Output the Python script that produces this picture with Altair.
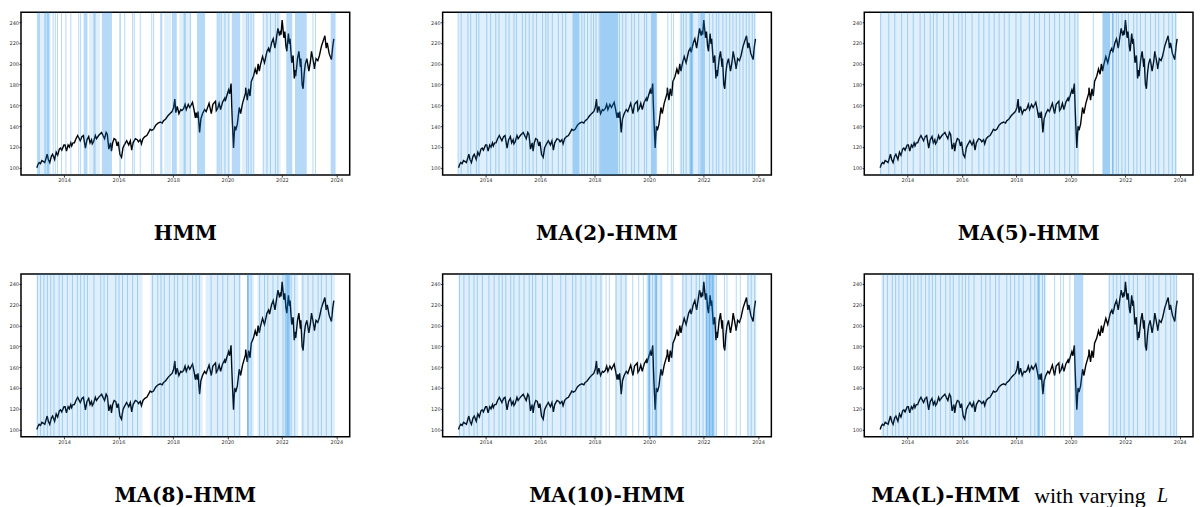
import altair as alt
import pandas as pd

# ---------------- price series ----------------
DATES = [
    "2013-01-02", "2013-01-15", "2013-02-01", "2013-02-20", "2013-03-10", "2013-04-01", "2013-04-18",
    "2013-05-20", "2013-06-05", "2013-06-24", "2013-07-15", "2013-08-01", "2013-08-28", "2013-09-18",
    "2013-10-08", "2013-10-30", "2013-11-15", "2013-12-02", "2013-12-31", "2014-01-15", "2014-02-03",
    "2014-02-25", "2014-03-14", "2014-04-02", "2014-04-14", "2014-05-01", "2014-05-20", "2014-06-10",
    "2014-07-03", "2014-07-31", "2014-08-07", "2014-08-29", "2014-09-18", "2014-10-15", "2014-11-05",
    "2014-11-28", "2014-12-16", "2015-01-05", "2015-01-15", "2015-02-01", "2015-02-25", "2015-03-12",
    "2015-04-10", "2015-05-20", "2015-06-08", "2015-06-29", "2015-07-20", "2015-08-05", "2015-08-25",
    "2015-09-17", "2015-09-29", "2015-10-15", "2015-11-03", "2015-11-25", "2015-12-14", "2015-12-30",
    "2016-01-20", "2016-02-11", "2016-03-01", "2016-03-20", "2016-04-20", "2016-05-18", "2016-06-08",
    "2016-06-27", "2016-07-15", "2016-08-15", "2016-09-09", "2016-09-25", "2016-10-20", "2016-11-04",
    "2016-11-25", "2016-12-20", "2017-01-15", "2017-02-15", "2017-03-01", "2017-03-22", "2017-04-15",
    "2017-05-15", "2017-06-15", "2017-07-15", "2017-08-10", "2017-08-25", "2017-09-25", "2017-10-25",
    "2017-11-20", "2017-12-20", "2018-01-10", "2018-01-26", "2018-02-08", "2018-02-27", "2018-03-22",
    "2018-04-15", "2018-05-01", "2018-05-25", "2018-06-12", "2018-06-28", "2018-07-25", "2018-08-15",
    "2018-09-20", "2018-10-10", "2018-10-29", "2018-11-08", "2018-11-23", "2018-12-03", "2018-12-24",
    "2019-01-10", "2019-02-01", "2019-03-01", "2019-03-22", "2019-04-30", "2019-05-30", "2019-06-20",
    "2019-07-26", "2019-08-05", "2019-08-23", "2019-09-12", "2019-10-02", "2019-10-28", "2019-11-26",
    "2019-12-03", "2019-12-27", "2020-01-17", "2020-01-31", "2020-02-19", "2020-02-28", "2020-03-09",
    "2020-03-23", "2020-04-08", "2020-04-21", "2020-05-13", "2020-06-08", "2020-06-26", "2020-07-22",
    "2020-08-31", "2020-09-02", "2020-09-23", "2020-10-12", "2020-10-30", "2020-11-16", "2020-12-15",
    "2021-01-08", "2021-01-29", "2021-02-16", "2021-03-04", "2021-03-19", "2021-04-16", "2021-05-12",
    "2021-06-15", "2021-07-06", "2021-07-19", "2021-08-15", "2021-09-06", "2021-09-30", "2021-10-20",
    "2021-11-08", "2021-11-30", "2021-12-13", "2021-12-20", "2022-01-04", "2022-01-27", "2022-02-09",
    "2022-02-24", "2022-03-08", "2022-03-29", "2022-04-12", "2022-04-20", "2022-05-12", "2022-05-31",
    "2022-06-16", "2022-06-27", "2022-07-05", "2022-07-29", "2022-08-16", "2022-09-06", "2022-09-12",
    "2022-09-29", "2022-10-12", "2022-10-27", "2022-11-11", "2022-12-01", "2022-12-28", "2023-01-18",
    "2023-02-02", "2023-03-09", "2023-03-13", "2023-04-03", "2023-04-27", "2023-05-19", "2023-06-15",
    "2023-07-31", "2023-08-18", "2023-09-01", "2023-09-26", "2023-10-27", "2023-11-14", "2023-11-28",
]
PRICE = [
    100, 103, 105, 104, 107, 106, 105,
    113, 108, 105, 111, 113, 108, 115,
    112, 118, 119, 117, 122, 122, 116,
    122, 120, 124, 121, 124, 124, 128,
    131, 127, 126, 130, 131, 119, 127,
    130, 124, 127, 123, 125, 131, 128,
    131, 134, 131, 128, 134, 132, 118,
    124, 116, 124, 128, 127, 121, 125,
    113, 110, 119, 122, 126, 122, 126,
    117, 124, 128, 127, 125, 127, 123,
    128, 130, 131, 135, 137, 136, 137,
    141, 143, 144, 143, 145, 147, 150,
    152, 154, 158, 166, 153, 159, 152,
    156, 155, 157, 161, 156, 161, 158,
    163, 156, 148, 153, 148, 154, 134,
    147, 152, 156, 154, 162, 152, 161,
    164, 155, 157, 162, 156, 163, 167,
    164, 170, 175, 171, 181, 160, 142,
    119, 140, 136, 142, 158, 152, 162,
    172, 177, 165, 176, 169, 183, 188,
    195, 190, 200, 193, 199, 207, 201,
    212, 215, 211, 220, 224, 215, 225,
    234, 227, 232, 228, 242, 225, 231,
    217, 212, 229, 219, 224, 201, 208,
    186, 194, 188, 205, 212, 197, 205,
    180, 176, 191, 200, 205, 193, 202,
    212, 198, 195, 205, 203, 208, 217,
    227, 215, 220, 210, 204, 217, 224,
]

# ---------------- regime shading per panel (fractional years) ----------------
HMM_SOLID = [(2013.28, 2013.33), (2013.36, 2013.46), (2014.72, 2014.86), (2015.39, 2015.76),
             (2016.03, 2016.09), (2017.53, 2017.61), (2017.96, 2018.14), (2018.88, 2019.18),
             (2020.16, 2020.47), (2022.16, 2022.38), (2022.48, 2022.91), (2023.79, 2023.97)]
HMM_LIGHT = [(2013.0, 2013.51), (2014.92, 2015.32), (2017.68, 2017.93), (2018.23, 2018.64),
             (2019.62, 2020.09), (2020.53, 2020.97), (2021.31, 2021.95)]
HMM_LINES = [2013.04, 2013.09, 2013.60, 2013.68, 2013.76, 2013.91, 2014.07, 2014.25, 2014.54,
             2014.61, 2015.10, 2015.14, 2016.23, 2016.52, 2016.58, 2016.80, 2017.22, 2017.29,
             2018.41, 2018.45, 2018.64, 2019.62, 2019.69, 2019.77, 2019.91, 2020.05, 2020.71,
             2020.77, 2020.87, 2020.97, 2021.31, 2021.45, 2021.58, 2021.76, 2021.85, 2023.14, 2023.23]

MA2_SOLID = [(2017.19, 2017.44), (2018.20, 2018.86), (2020.07, 2020.28), (2021.48, 2021.62),
             (2021.88, 2022.05)]
MA2_LIGHT = [(2013.0, 2020.30), (2021.12, 2023.90)]
MA2_LINES = [2012.99, 2013.10, 2013.35, 2013.45, 2013.66, 2013.75, 2014.04, 2014.18, 2014.37,
             2014.49, 2014.74, 2014.86, 2015.04, 2015.13, 2015.35, 2015.47, 2015.60, 2015.74,
             2015.87, 2016.09, 2016.21, 2016.29, 2016.45, 2016.67, 2016.82, 2016.94, 2017.53,
             2017.62, 2017.74, 2017.87, 2017.96, 2018.05, 2018.17, 2018.91, 2019.03, 2019.15,
             2019.36, 2019.46, 2019.62, 2019.83, 2019.91, 2020.69, 2020.82, 2020.90, 2021.18,
             2021.26, 2021.36, 2021.55, 2021.83, 2022.22, 2022.34, 2022.47, 2022.56, 2022.71,
             2022.83, 2022.96, 2023.08, 2023.20, 2023.33, 2023.45, 2023.57, 2023.67, 2023.79, 2023.88]

MA5_SOLID = [(2021.17, 2021.44), (2021.52, 2021.58)]
MA5_LIGHT = [(2013.0, 2020.28), (2021.15, 2023.90)]
MA5_LINES = [2013.02, 2013.32, 2013.54, 2013.79, 2014.01, 2014.22, 2014.47, 2014.63, 2014.84,
             2014.96, 2015.09, 2015.33, 2015.52, 2015.70, 2015.89, 2016.01, 2016.14, 2016.38,
             2016.63, 2016.81, 2017.00, 2017.19, 2017.37, 2017.56, 2017.74, 2017.99, 2018.17,
             2018.48, 2018.67, 2018.85, 2019.04, 2019.22, 2019.41, 2019.59, 2019.78, 2019.96,
             2020.15, 2020.27, 2020.83, 2021.54, 2021.67, 2021.75, 2021.88, 2022.00, 2022.12,
             2022.31, 2022.43, 2022.56, 2022.74, 2022.93, 2023.11, 2023.23, 2023.42, 2023.60,
             2023.73, 2023.85]

MA8_SOLID = [(2020.72, 2020.80), (2022.10, 2022.30)]
MA8_LIGHT = [(2013.0, 2016.88), (2017.17, 2019.09), (2019.20, 2020.50), (2020.72, 2020.97),
             (2021.10, 2022.60), (2022.70, 2023.94)]
MA8_LINES = [2013.02, 2013.14, 2013.26, 2013.39, 2013.51, 2013.63, 2013.82, 2013.94, 2014.12,
             2014.31, 2014.49, 2014.61, 2014.74, 2014.86, 2015.10, 2015.35, 2015.47, 2015.60,
             2015.90, 2016.02, 2016.15, 2016.33, 2016.52, 2016.70, 2017.25, 2017.44, 2017.56,
             2017.68, 2017.87, 2018.05, 2018.17, 2018.36, 2018.54, 2018.72, 2018.85, 2018.97,
             2019.40, 2019.64, 2019.83, 2020.01, 2020.26, 2020.44, 2020.75, 2020.87, 2021.18,
             2021.36, 2021.48, 2021.67, 2021.85, 2022.04, 2022.22, 2022.34, 2022.47, 2022.77,
             2022.96, 2023.14, 2023.33, 2023.45, 2023.63, 2023.82]

MA10_SOLID = [(2019.95, 2020.05), (2020.20, 2020.30), (2022.08, 2022.40)]
MA10_LIGHT = [(2013.0, 2018.30), (2018.75, 2019.20), (2019.90, 2020.50), (2021.20, 2022.48),
              (2023.60, 2023.94)]
MA10_LINES = [2013.04, 2013.20, 2013.39, 2013.57, 2013.69, 2013.88, 2014.12, 2014.31, 2014.49,
              2014.61, 2014.74, 2014.92, 2015.04, 2015.23, 2015.41, 2015.60, 2015.72, 2015.84,
              2016.09, 2016.27, 2016.45, 2016.76, 2016.94, 2017.19, 2017.31, 2017.50, 2017.68,
              2017.87, 2018.05, 2018.23, 2018.42, 2018.54, 2018.79, 2018.97, 2019.15, 2019.40,
              2019.62, 2019.79, 2020.01, 2020.13, 2020.26, 2020.44, 2020.81, 2020.87, 2021.24,
              2021.36, 2021.55, 2021.73, 2021.85, 2021.98, 2022.10, 2022.22, 2022.34, 2022.47,
              2022.77, 2022.86, 2023.20, 2023.35, 2023.63, 2023.75, 2023.88]

MAL_SOLID = [(2018.77, 2018.86), (2020.12, 2020.46)]
MAL_LIGHT = [(2013.05, 2019.10), (2021.40, 2023.90)]
MAL_LINES = [2013.12, 2013.27, 2013.45, 2013.57, 2013.69, 2013.85, 2014.00, 2014.12, 2014.24,
             2014.39, 2014.51, 2014.67, 2014.80, 2014.92, 2015.04, 2015.22, 2015.41, 2015.57,
             2015.69, 2015.90, 2016.02, 2016.14, 2016.26, 2016.45, 2016.72, 2016.88, 2017.04,
             2017.24, 2017.37, 2017.65, 2017.79, 2017.94, 2018.10, 2018.26, 2018.53, 2018.68,
             2018.83, 2018.96, 2019.04, 2019.41, 2019.63, 2019.73, 2019.97, 2021.41, 2021.56,
             2021.69, 2021.83, 2021.96, 2022.14, 2022.30, 2022.45, 2022.75, 2022.87, 2023.03,
             2023.24, 2023.49, 2023.67, 2023.79, 2023.89]

Y_TICKS = [100, 120, 140, 160, 180, 200, 220, 240]
X_TICK_YEARS = [2014, 2016, 2018, 2020, 2022, 2024]

# ---------------- helpers ----------------
W, H = 329, 163
BLUE = "#0a80e0"


def fy(y):
    yr = int(y)
    return pd.Timestamp(f"{yr}-01-01") + pd.to_timedelta((y - yr) * 365.25, unit="D")


price_df = pd.DataFrame({"date": pd.to_datetime(DATES), "value": PRICE})

xscale = alt.Scale(domain=[alt.DateTime(year=2012, month=6, date=3),
                           alt.DateTime(year=2024, month=6, date=28)])
yscale = alt.Scale(domain=[93, 249.6], nice=False, zero=False)
xaxis = alt.Axis(values=[alt.DateTime(year=y, month=1, date=1) for y in X_TICK_YEARS],
                 format="%Y", title=None, grid=False)
yaxis = alt.Axis(values=Y_TICKS, format="d", title=None, grid=False)

TITLE_FONT = "DejaVu Serif"


def panel(solid, light, lines, title_parts):
    line = alt.Chart(price_df).mark_line(color="black", strokeWidth=1.4).encode(
        x=alt.X("date:T", scale=xscale, axis=xaxis),
        y=alt.Y("value:Q", scale=yscale, axis=yaxis),
    )
    light_df = pd.DataFrame({"start": [fy(a) for a, b in light], "end": [fy(b) for a, b in light]})
    solid_df = pd.DataFrame({"start": [fy(a) for a, b in solid], "end": [fy(b) for a, b in solid]})
    lines_df = pd.DataFrame({"d": [fy(a) for a in lines]})
    light_l = alt.Chart(light_df).mark_rect(color=BLUE, opacity=0.13).encode(
        x="start:T", x2="end:T", y=alt.value(0), y2=alt.value(H))
    solid_l = alt.Chart(solid_df).mark_rect(color=BLUE, opacity=0.3).encode(
        x="start:T", x2="end:T", y=alt.value(0), y2=alt.value(H))
    rule_l = alt.Chart(lines_df).mark_rule(color=BLUE, opacity=0.3, strokeWidth=1).encode(
        x="d:T", y=alt.value(0), y2=alt.value(H))
    layers = [line, light_l, solid_l, rule_l]
    for txt, xpos, align, weight, style, size, font in title_parts:
        layers.append(
            alt.Chart(pd.DataFrame({"t": [txt]})).mark_text(
                font=font, fontSize=size, fontWeight=weight, fontStyle=style,
                align=align, baseline="middle", color="black"
            ).encode(text="t:N", x=alt.value(xpos), y=alt.value(H + 59))
        )
    return alt.layer(*layers).properties(width=W, height=H)


def center_title(t):
    return [(t, W / 2, "center", "bold", "normal", 20, TITLE_FONT)]


p1 = panel(HMM_SOLID, HMM_LIGHT, HMM_LINES, center_title("HMM"))
p2 = panel(MA2_SOLID, MA2_LIGHT, MA2_LINES, center_title("MA(2)-HMM"))
p3 = panel(MA5_SOLID, MA5_LIGHT, MA5_LINES, center_title("MA(5)-HMM"))
p4 = panel(MA8_SOLID, MA8_LIGHT, MA8_LINES, center_title("MA(8)-HMM"))
p5 = panel(MA10_SOLID, MA10_LIGHT, MA10_LINES, center_title("MA(10)-HMM"))
p6 = panel(MAL_SOLID, MAL_LIGHT, MAL_LINES,
           [("MA(L)-HMM", 7, "left", "bold", "normal", 21, TITLE_FONT),
            ("with varying", 170, "left", "normal", "normal", 22, "Liberation Serif"),
            ("L", 293, "left", "normal", "italic", 20, "Liberation Serif")])

row1 = alt.hconcat(p1, p2, p3, spacing=79)
row2 = alt.hconcat(p4, p5, p6, spacing=79)
chart = alt.vconcat(row1, row2, spacing=27).properties(
    padding={"left": 0, "top": 2, "right": 0, "bottom": 0}
).configure_view(
    stroke="black", strokeWidth=1.5
).configure_axis(
    labelFontSize=5, labelFont="DejaVu Sans", labelColor="#333333",
    tickSize=2, tickColor="black", tickWidth=0.8, labelPadding=0.5, domain=False
)

chart.save("out.html", embed_options={"renderer": "svg", "actions": False})
